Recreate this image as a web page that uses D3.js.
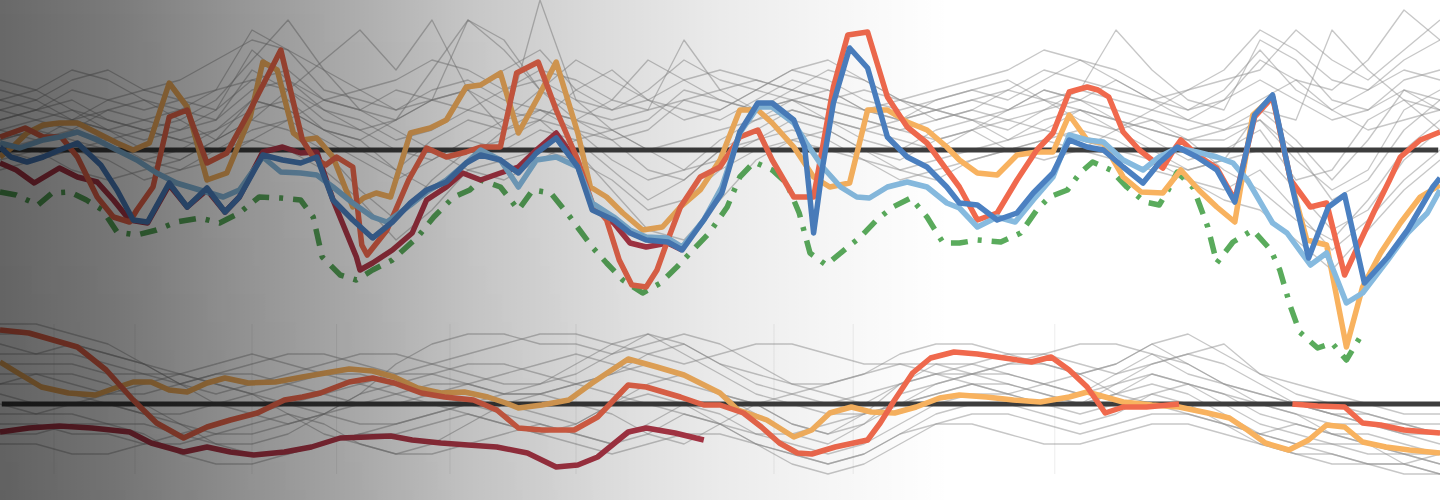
<!DOCTYPE html>
<html><head><meta charset="utf-8">
<script src="https://cdn.jsdelivr.net/npm/d3@7"></script>
<style>html,body{margin:0;padding:0;background:#fff;overflow:hidden}svg{display:block}</style>
</head><body><svg id="c" width="1440" height="500"></svg>
<script>
// ---- weeks (x categories) for the thin gray series ----
const grayWeeks = [0,2,4,6,8,10,12,14,16,18,20,22,24,26,28,30,32,34,36,38,40,42,44,46,48,50,52,54,56,58,60,62,64,66,68,70,72,74,76,78,80];

// ---- top panel: thin gray series (values per grayWeeks) ----
const grayTop1  = [5,6,8,7,5,4,6,12,10,6,5,4,6,7,5,4,3,5,9,7,5,4,5,6,4,3,4,5,4,5,6,12,8,5,4,11,9,5,4,6,5];
const grayTop2  = [3,4,5,3,2,3,5,9,13,8,4,3,5,13,10,6,4,3,4,11,6,4,5,3,2,3,4,3,4,6,5,7,5,3,2,4,3,12,8,5,4];
const grayTop3  = [2,3,4,2,1,2,4,7,6,3,2,3,5,6,4,3,2,1,2,5,4,6,5,4,3,2,3,4,3,4,5,4,3,2,3,5,7,6,9,14,11];
const grayTop4  = [1,2,1,0,-1,0,2,4,5,2,0,-2,1,3,2,15,5,2,0,1,2,3,4,3,2,1,0,2,3,2,4,3,1,-1,0,2,-3,-2,3,5,2];
const grayTop5  = [4,5,3,2,3,4,3,6,7,4,3,1,2,4,3,6,9,7,5,4,3,5,7,6,4,3,5,6,7,5,4,3,2,1,2,3,-1,-4,-2,4,6];
const grayTop6  = [0,-1,0,1,2,1,0,2,3,1,-1,-3,-1,1,0,2,1,-2,-5,-3,0,1,2,1,-1,-2,-1,0,1,2,1,0,-1,-2,-1,0,-4,-8,-6,-1,2];
const grayTop7  = [-1,0,-2,-3,-2,-1,1,3,2,0,-4,-7,-3,0,1,3,0,-4,-8,-9,-5,-1,1,2,0,-2,-3,-1,0,1,2,1,-1,-3,-4,-2,-6,-10,-7,-3,0];
const grayTop8  = [7,6,4,3,2,1,2,5,4,2,1,3,8,13,11,6,3,2,3,6,5,4,6,8,7,5,4,3,2,4,6,5,4,3,5,9,7,4,2,3,4];
const grayTop9  = [2,1,3,4,3,2,3,8,6,4,2,0,-1,1,3,4,2,-1,-3,-2,1,3,5,4,3,2,1,2,4,6,5,3,2,1,1,3,0,-5,-3,2,5];
const grayTop10 = [5,4,3,5,6,5,4,10,7,5,4,6,5,4,6,8,7,5,4,5,6,7,6,5,6,5,4,5,6,8,7,6,5,4,6,10,6,4,6,8,7];
const grayTop11 = [-2,-1,0,-1,-3,-2,0,1,0,-2,-5,-9,-6,-2,-1,0,-1,-3,-6,-5,-2,0,1,0,-1,-3,-2,-1,0,1,0,-1,-2,-3,-5,-6,-9,-12,-8,-4,-1];
const grayTop12 = [3,4,6,5,4,5,6,7,8,5,6,7,9,8,6,7,5,4,6,9,7,6,8,7,5,4,5,6,5,7,9,8,6,4,5,7,5,3,4,7,8];
const grayTop13 = [1,2,3,2,0,-1,1,5,4,2,1,-2,-4,-1,2,4,3,1,-2,-3,0,2,4,3,1,0,2,3,1,3,4,2,0,-2,-1,4,1,-3,1,6,4];
const grayTop14 = [6,5,7,8,6,7,9,11,10,8,6,4,5,6,8,10,6,4,5,7,8,7,6,5,4,5,6,7,8,10,9,7,5,6,8,12,10,7,6,9,11];
const grayTop15 = [4,3,2,4,5,3,1,3,6,9,12,8,13,6,2,3,6,8,5,3,4,6,8,9,7,5,3,4,6,5,3,2,4,6,7,8,12,9,7,10,13];
const grayTop16 = [0,1,2,1,-1,-2,-1,1,3,5,4,2,0,-2,-3,-1,1,2,0,-2,-1,1,3,2,0,-1,1,2,0,-1,0,2,3,1,-2,-4,-7,-9,-5,0,3];

// ---- bottom panel: thin gray series ----
const grayBot1  = [5,5,6,5,4,2,0,-1,-2,-1,1,4,6,7,7,6,6,5,6,7,6,4,2,1,0,2,3,4,5,5,4,3,4,5,6,3,2,1,0,-1,-1];
const grayBot2  = [3,3,2,1,1,2,3,3,2,1,0,0,1,2,3,4,5,4,3,2,1,0,-2,-3,-1,2,4,4,3,2,1,3,5,4,2,0,-1,-2,-2,-3,-4];
const grayBot3  = [2,2,1,0,-1,-2,-3,-3,-2,-1,0,1,2,2,1,1,2,3,4,3,1,-1,-3,-4,-2,1,2,3,3,2,1,2,3,2,1,-1,-2,-3,-3,-4,-5];
const grayBot4  = [0,-1,-1,-2,-2,-3,-4,-5,-5,-4,-3,-2,-1,0,0,-1,-2,0,2,3,1,0,-2,-3,-2,0,1,2,2,1,0,1,2,1,-1,-3,-4,-4,-5,-5,-6];
const grayBot5  = [-2,-2,-3,-3,-4,-4,-3,-2,-1,-2,-4,-5,-5,-4,-3,-2,-3,-4,-2,0,-1,-3,-4,-5,-4,-2,0,1,1,0,-1,0,1,0,-2,-4,-5,-6,-6,-6,-7];
const grayBot6  = [-4,-4,-5,-5,-4,-3,-2,-1,0,1,2,3,3,2,1,2,4,6,7,5,3,1,0,-1,-1,0,1,2,1,0,0,2,4,5,4,2,0,-1,-2,-2,-3];
const grayBot7  = [4,4,4,3,3,3,4,5,4,3,2,1,0,-1,-2,-3,-2,0,1,0,-2,-4,-5,-6,-5,-3,-1,0,0,-1,-2,-1,1,2,1,0,-1,-3,-4,-5,-5];
const grayBot8  = [1,0,0,1,2,3,2,1,-1,-3,-4,-5,-4,-2,0,1,2,3,5,6,4,2,1,0,1,2,3,2,1,2,3,4,6,4,2,1,0,-1,-2,-3,-3];
const grayBot9  = [7,7,6,5,4,3,2,1,0,-1,-2,-2,-1,0,1,1,0,-1,-3,-4,-2,0,1,2,3,4,4,3,2,1,0,1,3,2,0,-2,-3,-4,-4,-5,-6];
const grayBot10 = [2,3,3,2,0,-2,-4,-4,-3,-1,1,2,3,4,4,3,2,1,0,-1,-2,-3,-3,-2,-1,0,2,3,4,4,3,1,0,-1,-2,-3,-2,-3,-4,-6,-7];
const grayBot11 = [-1,-1,0,0,-1,-1,0,1,2,3,3,2,1,0,-1,-2,-3,-4,-3,-1,-2,-4,-6,-7,-6,-4,-2,-1,-1,-2,-3,-2,-1,-1,-2,-3,-4,-5,-6,-6,-5];
const grayBot12 = [8,8,7,6,4,2,3,4,5,5,4,3,4,5,6,7,7,6,5,4,5,6,6,5,4,4,3,3,4,5,6,6,5,3,2,1,0,-1,-1,-2,-2];
const grayBot13 = [6,5,5,4,3,2,1,2,3,4,5,5,4,3,2,2,3,5,7,6,4,3,2,2,3,5,6,6,5,4,3,4,6,7,5,3,1,0,-1,-2,-3];
const grayBot14 = [-3,-3,-2,-2,-3,-5,-6,-6,-5,-4,-3,-3,-2,-1,-2,-3,-4,-5,-4,-3,-3,-4,-5,-6,-5,-3,-2,-2,-3,-4,-4,-3,-2,-2,-3,-4,-5,-5,-6,-7,-7];

// ---- top panel highlighted series: [week, value] ----
const redTop = [[0,1.3],[1.4,2.2],[2.4,1.3],[3.4,1.3],[4.3,-0.7],[5.4,-4.7],[6.3,-6.7],[7.2,-7.2],[7.6,-6],[8.5,-3.7],[9.4,3.3],[10.4,4],[11.5,-1.3],[12.6,-0.3],[13.9,4],[15.6,10],[16.8,1],[17.4,-0.7],[18.1,-1.5],[18.7,-0.7],[19.6,-1.7],[20.1,-9.5],[20.4,-10.5],[21.5,-8],[22.7,-3],[23.7,0.2],[24.8,-0.7],[25.9,-0.2],[26.7,0.3],[27.8,0.3],[28.7,7.7],[29.9,8.8],[30.9,4],[32.1,-1],[32.9,-5.3],[33.7,-7],[34.4,-11],[35.1,-13.5],[35.9,-13.7],[36.5,-12],[37.1,-9],[37.8,-5.7],[38.9,-2.7],[40,-1.7],[41.1,1.3],[42.1,2],[42.9,-1],[44.1,-4.7],[45.2,-4.7],[46.3,6.3],[47.1,11.5],[48.2,11.8],[49.3,5.3],[50.4,2.3],[51.5,0.7],[52.6,-2],[53.3,-3.7],[54.3,-7],[55.4,-6.3],[56.5,-3],[57.6,0],[58.5,1.7],[59.4,5.8],[60.4,6.3],[61,6],[61.6,5.3],[62.4,1.8],[63.3,0],[64,-1],[64.6,-1.8],[65.2,0],[65.6,1],[66.5,-0.5],[67.6,-1.8],[68.6,-5],[69.7,3.3],[70.7,5.3],[71.7,-3],[72.8,-5.7],[73.7,-5.3],[74.7,-12.5],[75.6,-9],[76.3,-6.3],[77.2,-3],[77.8,-0.7],[78.9,1],[80,1.8]];
const orangeTop = [[0,-0.7],[0.7,0.3],[1.5,1.7],[2.4,2.5],[3.3,2.7],[4.3,2.7],[5.4,1.7],[6.5,0.7],[7.4,0],[8.3,0.7],[9.4,6.7],[10.4,4.3],[11.5,-3],[12.6,-2.3],[13.9,3.3],[14.6,8.8],[15.4,8],[16.3,1.7],[16.8,1],[17.6,1.2],[18.5,-0.7],[19.6,-5.7],[20.2,-4.8],[20.9,-4.3],[21.7,-4.7],[22.8,1.7],[23.9,2.2],[24.8,3],[25.9,6.3],[26.7,6.5],[27.8,7.7],[28.8,1.7],[29.9,5.3],[30.9,8.8],[32.1,1.7],[32.8,-3.7],[33.7,-4.7],[34.6,-6.3],[35.7,-8],[36.8,-7.7],[37.8,-5.7],[38.9,-4],[40,-1],[41.1,4],[42.1,4],[42.9,2.7],[44.1,0.3],[45.2,-2.7],[46.1,-3.7],[47.2,-3.3],[48.2,4],[49.3,4],[50.4,2.8],[51.5,2],[52.6,0.3],[53.3,-1],[54.3,-2.3],[55.4,-2.5],[56.5,-0.5],[57.6,-0.2],[58.5,-0.2],[59.4,3.5],[60.4,1],[61.3,0.7],[62.4,-2.7],[63.4,-4.2],[64.6,-4.3],[65.6,-2],[66.6,-4],[67.6,-5.7],[68.6,-7.2],[69.6,3.5],[70.7,5.3],[71.7,-3],[72.6,-9],[73.7,-9.5],[74.8,-19.7],[75.7,-13.7],[76.7,-10.3],[77.8,-7.3],[78.9,-4.7],[80,-3.5]];
const blueTop = [[0,0.3],[0.6,-0.7],[1.5,-1.2],[2.4,-0.7],[3.3,0],[4.3,0.7],[5.6,-1.5],[6.5,-4],[7.4,-7],[8.2,-7.2],[9.4,-3.3],[10.4,-5.7],[11.5,-3.8],[12.5,-6.2],[13.3,-4.7],[14.6,-0.5],[15.7,-1],[16.7,-1.3],[17.6,-0.7],[18.5,-5],[19.6,-7],[20.7,-8.8],[21.8,-7.2],[22.8,-5.3],[23.7,-4],[24.8,-3.2],[25.9,-1.3],[26.7,-0.5],[27.8,-1],[28.8,-2.3],[29.8,-0.3],[30.9,1.2],[32.1,-1.7],[32.9,-6],[34.1,-7],[35,-8.3],[35.9,-9],[37.1,-9.2],[37.9,-10],[39.1,-7],[40.1,-4.3],[41.1,1.8],[42.1,4.7],[42.9,4.7],[44.1,3],[44.7,0.3],[45.2,-8.3],[45.7,-1.7],[46.3,4.7],[47.2,10.2],[48.2,8.2],[49.3,1.3],[50.4,-0.7],[51.5,-1.7],[52.6,-3.7],[53.3,-5.3],[54.3,-5.5],[55.4,-7],[56.5,-6.3],[57.4,-4.3],[58.5,-2.3],[59.4,1],[60.4,0.3],[61.3,0],[62.4,-1.7],[63.5,-3.3],[64.4,-1.3],[65.4,0.3],[66.5,-0.7],[67.6,-2],[68.6,-5.2],[69.7,3.5],[70.7,5.5],[71.7,-3],[72.7,-10.8],[73.8,-5.7],[74.7,-4.5],[75.8,-13.3],[77.1,-10.7],[78.2,-8],[79.6,-3.7],[80,-2.8]];
const lightBlueTop = [[0,0.7],[1.1,0.2],[2.4,1],[3.3,1.3],[4.3,1.8],[5.4,1],[6.5,0],[7.6,-1],[8.7,-2.3],[9.8,-3.3],[11.1,-4],[12.4,-4.7],[13.3,-4],[14.6,-0.7],[15.6,-2.2],[16.7,-2.3],[17.6,-2.5],[18.5,-3.7],[19.6,-5.3],[20.7,-6.7],[21.5,-7.2],[22.8,-5.5],[23.7,-4.2],[24.8,-3],[25.9,-1.3],[26.7,0],[27.8,-1],[28.8,-3.7],[29.8,-1],[30.9,-0.7],[32.1,-1.7],[32.9,-5.3],[34.1,-6.7],[35,-8],[35.9,-8.7],[37.1,-8.8],[37.9,-9.7],[39.1,-7],[40.1,-3.7],[41.1,1.7],[42.1,4.3],[42.9,4.3],[44.1,2.7],[44.8,0.7],[45.7,-1.7],[46.7,-3.7],[47.6,-4.7],[48.3,-4.8],[49.3,-3.7],[50.4,-3.2],[51.5,-3.7],[52.6,-5.3],[53.3,-5.8],[54.3,-7.7],[55.4,-6.7],[56.4,-7.2],[57.4,-5],[58.5,-2.7],[59.4,1.5],[60.4,1],[61.3,0.8],[62.4,-1],[63.5,-2],[64.4,-0.7],[65.4,0.2],[66.5,-0.2],[67.6,-0.7],[68.5,-1.3],[69.3,-3],[70.7,-7.3],[71.5,-8.3],[72.8,-11.5],[73.7,-10.3],[74.8,-15.3],[75.7,-14.3],[77.1,-11],[78.2,-8.3],[79.3,-6.3],[80,-4]];
const maroonTop = [[0,-1.3],[0.9,-2],[1.9,-3.3],[3.3,-1.8],[4.3,-2.7],[5.4,-3.2],[6.3,-5],[7.2,-7],[8.2,-7.3],[9.4,-3.5],[10.4,-5.7],[11.5,-4],[12.5,-6.2],[13.3,-4.7],[14.6,-0.2],[15.7,0.3],[16.7,-0.3],[17.6,-0.2],[18.5,-5],[19.8,-10.7],[20,-12],[20.7,-11.3],[21.8,-10],[22.9,-8.3],[23.7,-5],[24.8,-3.7],[25.7,-2.3],[26.7,-3],[27.8,-2.3],[28.8,-1.7],[29.8,0],[30.9,1.7],[32.1,-1.3],[32.9,-5.7],[34.1,-7.3],[35,-9.3],[35.9,-9.7],[37.1,-9.3],[37.9,-10]];
const greenTop = [[0,-4.2],[0.9,-4.5],[2.1,-5.5],[2.9,-4.3],[3.9,-4.2],[4.8,-5],[5.7,-6],[6.5,-8.2],[7.6,-8.5],[8.7,-8],[9.8,-7.2],[11.1,-6.8],[12.2,-7.3],[13.3,-6.3],[14.4,-4.7],[15.6,-4.8],[16.7,-5],[17.4,-6.7],[17.9,-10.7],[18.9,-12.5],[19.8,-13],[20.7,-12],[21.8,-11],[23.2,-8.7],[24.1,-6.7],[25.2,-4.7],[26.1,-4],[26.7,-3],[27.8,-3.7],[28.8,-6],[29.6,-4],[30.6,-4.3],[31.5,-6.3],[32.2,-8],[32.9,-9.7],[33.7,-11.3],[34.6,-13],[35.7,-14.3],[36.7,-13.3],[37.6,-11.7],[38.5,-10],[39.4,-8.3],[40.4,-5.7],[41.1,-2.7],[41.9,-1.2],[42.9,-2],[43.7,-3.3],[44.4,-6.3],[45,-10.3],[45.9,-11.5],[47.1,-9.7],[47.8,-8.7],[48.7,-7],[49.6,-5.7],[50.6,-4.8],[51.5,-6.7],[52.4,-9.3],[53.3,-9.3],[54.3,-9],[55.6,-9.2],[56.7,-8.3],[57.6,-6],[58.3,-4.7],[59.3,-4],[60,-2.3],[60.7,-1.2],[61.7,-2],[62.6,-3.7],[63.6,-5.2],[64.4,-5.5],[64.9,-4],[65.4,-2.2],[66.3,-3.8],[67.1,-7.7],[67.6,-11.3],[68.5,-9.2],[69.6,-8],[70.6,-10],[71.1,-12],[71.7,-15.7],[72.2,-18.2],[73.2,-19.8],[74,-19.3],[74.8,-21],[75.7,-18.3]];

// ---- bottom panel highlighted series ----
const redBot = [[0,7.4],[1.6,7.1],[4.3,5.7],[5.9,3.4],[7.4,0.4],[8.7,-1.9],[10.2,-3.4],[11.5,-2.3],[12.8,-1.6],[14.3,-0.9],[15.8,0.4],[16.8,0.7],[17.8,1.1],[19.4,2.2],[20.7,2.6],[21.9,2.1],[23.4,1.1],[24.7,0.7],[26.3,0.4],[27.6,-0.6],[28.8,-2.4],[30.1,-2.6],[31.9,-2.6],[33.2,-1.3],[34.9,1.9],[35.9,1.7],[37.8,0.7],[39.1,-0.1],[40,-0.1],[41.3,-0.9],[42.3,-2.3],[43.3,-3.9],[44.3,-4.9],[45.1,-5],[46.4,-4.3],[48.2,-3.6],[48.9,-1.9],[49.7,0.4],[50.7,3.1],[51.7,4.6],[53,5.2],[54.3,5],[55.8,4.6],[57.3,4.2],[58.4,4.7],[59.4,3.4],[60.4,1.7],[61.4,-0.9],[62.4,-0.3],[63.7,-0.3],[65.5,0],[68.5,null],[71.8,0],[73.2,-0.2],[74.7,-0.3],[75.7,-1.9],[76.7,-2.1],[78,-2.6],[80,-2.9]];
const orangeBot = [[0,4.2],[1,3.1],[2.3,1.7],[3.8,1.1],[5.3,0.9],[6.4,1.6],[7.4,2.2],[8.4,2.2],[9.4,1.4],[10.4,1.2],[11.5,2.1],[12.5,2.6],[13.8,2.1],[15.3,2.2],[16.8,2.7],[18.4,3.2],[19.4,3.5],[20.7,3.3],[21.9,2.7],[23.2,1.6],[24.5,1.1],[25.8,1.2],[27.1,0.7],[28.1,0.1],[28.8,-0.4],[30.1,-0.1],[31.6,0.4],[32.9,2.1],[34.9,4.5],[36.5,3.7],[38,2.9],[40,1.1],[41,-0.6],[42.6,-1.6],[44.1,-3.3],[45.1,-2.6],[46.1,-0.9],[47.3,-0.3],[48.4,-0.8],[49.7,-0.9],[50.9,-0.3],[52.2,0.6],[53.3,0.9],[54.8,0.7],[56.3,0.4],[57.8,0.2],[59.4,0.7],[60.4,1.2],[61.4,0.7],[62.4,0.2],[64,-0.1],[65.5,-0.3],[67.1,-0.9],[68.3,-1.4],[69.3,-2.6],[70.3,-3.9],[71.6,-4.6],[72.7,-3.6],[73.7,-2.1],[74.7,-2.3],[75.7,-3.8],[77,-4.3],[78.3,-4.6],[80,-4.9]];
const maroonBot = [[0,-2.8],[1.6,-2.4],[3.3,-2.2],[5.1,-2.4],[7.2,-2.8],[8.4,-3.9],[10.2,-4.8],[11.5,-4.3],[12.8,-4.8],[14.1,-5.1],[15.8,-4.8],[17.3,-4.3],[18.9,-3.4],[20.4,-3.3],[21.7,-3.2],[22.9,-3.6],[24.5,-3.9],[26,-4.1],[27.6,-4.3],[29.3,-4.9],[30.9,-6.3],[32.1,-6.1],[33.2,-5.3],[34.9,-2.8],[35.9,-2.4],[37.5,-2.9],[39.1,-3.6]];

const gridWeeksBot = [3,7.5,14,18.7,25,32,43,47.4,58.6];

// ---------------- drawing ----------------
const svg = d3.select('#c');
const W = 1440, H = 500;
const x = d3.scaleLinear().domain([0, 80]).range([0, W]);
const yTop = d3.scaleLinear().domain([-15, 15]).range([300, 0]);
const yBot = d3.scaleLinear().domain([-10, 10]).range([504, 304]);

const defs = svg.append('defs');
const grad = defs.append('linearGradient').attr('id','shade').attr('x1','0').attr('x2','1').attr('y1','0').attr('y2','0');
[[0,0.59],[0.08,0.52],[0.17,0.41],[0.25,0.32],[0.33,0.22],[0.42,0.14],[0.5,0.08],[0.58,0.035],[0.66,0.0],[1,0]].forEach(s=>{
  grad.append('stop').attr('offset',s[0]).attr('stop-color','#000').attr('stop-opacity',s[1]);
});
const gradV = defs.append('linearGradient').attr('id','shadeV').attr('x1','0').attr('x2','0').attr('y1','0').attr('y2','1');
gradV.append('stop').attr('offset',0).attr('stop-color','#000').attr('stop-opacity',0);
gradV.append('stop').attr('offset',1).attr('stop-color','#000').attr('stop-opacity',0.07);
const maskG = defs.append('linearGradient').attr('id','fadeX').attr('x1','0').attr('x2','1');
maskG.append('stop').attr('offset',0).attr('stop-color','#fff');
maskG.append('stop').attr('offset',0.45).attr('stop-color','#000');
defs.append('mask').attr('id','leftMask').append('rect').attr('width',W).attr('height',H).attr('fill','url(#fadeX)');
defs.append('filter').attr('id','soft').append('feGaussianBlur').attr('stdDeviation',0.45);

svg.append('rect').attr('width',W).attr('height',H).attr('fill','#fff');

const chart = svg.append('g').attr('filter','url(#soft)');

const lineTop = d3.line().x(d=>x(d[0])).y(d=>yTop(d[1])).defined(d=>d[1]!==null);
const lineBot = d3.line().x(d=>x(d[0])).y(d=>yBot(d[1])).defined(d=>d[1]!==null);

// faint vertical grid in lower panel
chart.append('g').selectAll('line').data(gridWeeksBot).join('line')
  .attr('x1',d=>x(d)).attr('x2',d=>x(d)).attr('y1',yBot(8)).attr('y2',yBot(-7))
  .attr('stroke','#999').attr('stroke-opacity',0.18).attr('stroke-width',1);

const grayTops = [grayTop1,grayTop2,grayTop3,grayTop4,grayTop5,grayTop6,grayTop7,grayTop8,grayTop9,grayTop10,grayTop11,grayTop12,grayTop13,grayTop14,grayTop15,grayTop16];
const grayBots = [grayBot1,grayBot2,grayBot3,grayBot4,grayBot5,grayBot6,grayBot7,grayBot8,grayBot9,grayBot10,grayBot11,grayBot12,grayBot13,grayBot14];

chart.append('g').selectAll('path').data(grayTops).join('path')
  .attr('d',s=>lineTop(s.map((v,i)=>[grayWeeks[i],v])))
  .attr('fill','none').attr('stroke','#8f8f8f').attr('stroke-opacity',0.5).attr('stroke-width',1.3).attr('stroke-linejoin','round');
chart.append('g').selectAll('path').data(grayBots).join('path')
  .attr('d',s=>lineBot(s.map((v,i)=>[grayWeeks[i],v])))
  .attr('fill','none').attr('stroke','#8f8f8f').attr('stroke-opacity',0.5).attr('stroke-width',1.3).attr('stroke-linejoin','round');

// zero lines
chart.append('line').attr('x1',x(0)).attr('x2',x(79.9)).attr('y1',yTop(0)).attr('y2',yTop(0))
  .attr('stroke','#3c3c3c').attr('stroke-width',5);
chart.append('line').attr('x1',x(0.1)).attr('x2',x(80)).attr('y1',yBot(0)).attr('y2',yBot(0))
  .attr('stroke','#3c3c3c').attr('stroke-width',5);

function draw(data, gen, color, extra){
  const p = chart.append('path').datum(data).attr('d',gen)
    .attr('fill','none').attr('stroke',color).attr('stroke-width',5.5)
    .attr('stroke-linejoin','round').attr('stroke-linecap','butt');
  if (extra) extra(p);
}
// bottom panel
draw(maroonBot, lineBot, '#b2394a');
draw(orangeBot, lineBot, '#f8b25e');
draw(redBot, lineBot, '#f0694d');
// top panel
draw(greenTop, lineTop, '#5aab5c', p=>p.attr('stroke-dasharray','17 10 4 10'));
draw(maroonTop, lineTop, '#b2394a');
draw(orangeTop, lineTop, '#f8b25e');
draw(redTop, lineTop, '#f0694d');
draw(lightBlueTop, lineTop, '#86badf');
draw(blueTop, lineTop, '#4b80c1');

// grey shading overlay
svg.append('rect').attr('width',W).attr('height',H).attr('fill','url(#shade)');
svg.append('rect').attr('width',W).attr('height',H).attr('fill','url(#shadeV)').attr('mask','url(#leftMask)');
</script></body></html>
